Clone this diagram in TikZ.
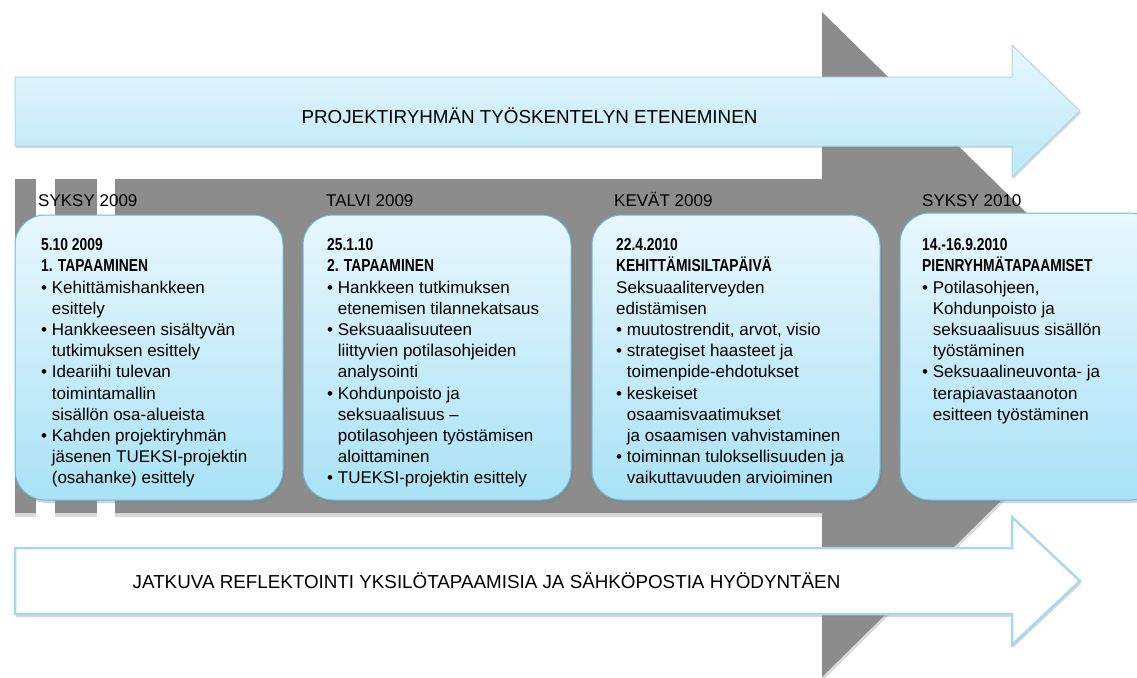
\documentclass[tikz,border=0pt]{standalone}
\usepackage{fontspec}
\setmainfont{Liberation Sans}
\newfontfamily\narrowbf[FakeStretch=0.8]{Liberation Sans Bold}
\usetikzlibrary{positioning,shadows}
\definecolor{tlgray}{HTML}{8C8C8C}
\definecolor{tlblue}{HTML}{A9E2F6}
\definecolor{tlpale}{HTML}{E8F7FD}
\definecolor{tledge}{HTML}{6DBAD9}
\definecolor{tlrim}{HTML}{A8D8EA}
\tikzset{
  meeting/.style={draw=tledge, line width=1pt, rounded corners=30pt, top color=tlpale, bottom color=tlblue,
    drop shadow={opacity=0.35, shadow xshift=2pt, shadow yshift=-3pt}},
  season/.style={anchor=base west, inner sep=0pt, font=\fontsize{17}{20}\selectfont},
  notes/.style={anchor=north west, inner sep=0pt, align=left, font=\fontsize{17}{21.2}\selectfont},
  banner/.style={inner sep=0pt, font=\fontsize{18.8}{22}\selectfont},
}
\newcommand{\bul}{\textbullet\ }
\newcommand{\ind}{\hphantom{\textbullet\ }}
\newcommand{\hd}[1]{{\narrowbf\fontsize{17.3}{21.2}\selectfont #1}}
\begin{document}
\begin{tikzpicture}[x=1pt,y=-1pt]
\useasboundingbox (0,0) rectangle (1137,677);
\clip (0,0) rectangle (1137,677);

\fill[tlgray, drop shadow={opacity=0.3, shadow xshift=0pt, shadow yshift=-4pt}] (115,179) -- (822,179) -- (822,12) -- (1160,344) -- (822,677) -- (822,513) -- (115,513) -- cycle;
\fill[tlgray, drop shadow={opacity=0.3, shadow xshift=0pt, shadow yshift=-4pt}] (15,179) rectangle (36,513);
\fill[tlgray, drop shadow={opacity=0.3, shadow xshift=0pt, shadow yshift=-4pt}] (55,179) rectangle (97,513);

\draw[draw=tlrim, line width=1pt, top color=tlpale, bottom color=tlblue!80,
  drop shadow={opacity=0.3, shadow xshift=1pt, shadow yshift=-2pt}]
  (15,77) -- (1012,77) -- (1012,45) -- (1080,111) -- (1012,177) -- (1012,146) -- (15,146) -- cycle;
\node[banner] (ptitle) at (529.5,116) {PROJEKTIRYHMÄN TYÖSKENTELYN ETENEMINEN};

\draw[draw=tlrim, line width=2.5pt, fill=white,
  drop shadow={opacity=0.3, shadow xshift=1pt, shadow yshift=-3pt}]
  (15,548) -- (1012,548) -- (1012,517) -- (1080,581) -- (1012,645) -- (1012,614) -- (15,614) -- cycle;
\node[banner] (rtitle) at (486.5,581) {JATKUVA REFLEKTOINTI YKSILÖTAPAAMISIA JA SÄHKÖPOSTIA HYÖDYNTÄEN};

\node[season] (s1) at (38,206.5) {SYKSY 2009};
\node[season] (s2) at (326,206.5) {TALVI 2009};
\node[season] (s3) at (614,206.5) {KEVÄT 2009};
\node[season] (s4) at (922,206.5) {SYKSY 2010};

\node[meeting, minimum width=268pt, minimum height=285pt] (m1) at (149,357.5) {};
\node[meeting, minimum width=268pt, minimum height=285pt] (m2) at (437,357.5) {};
\node[meeting, minimum width=288pt, minimum height=285pt] (m3) at (736,357.5) {};
\node[meeting, minimum width=260pt, minimum height=287pt] (m4) at (1030,356.5) {};

\node[notes] (n1) at (41,238.5) {\hd{5.10 2009}\\ \hd{1. TAPAAMINEN}\\
\bul Kehittämishankkeen\\ \ind esittely\\
\bul Hankkeeseen sisältyvän\\ \ind tutkimuksen esittely\\
\bul Ideariihi tulevan\\ \ind toimintamallin\\ \ind sisällön osa-alueista\\
\bul Kahden projektiryhmän\\ \ind jäsenen TUEKSI-projektin\\ \ind (osahanke) esittely};

\node[notes] (n2) at (327,238.5) {\hd{25.1.10}\\ \hd{2. TAPAAMINEN}\\
\bul Hankkeen tutkimuksen\\ \ind etenemisen tilannekatsaus\\
\bul Seksuaalisuuteen\\ \ind liittyvien potilasohjeiden\\ \ind analysointi\\
\bul Kohdunpoisto ja\\ \ind seksuaalisuus –\\ \ind potilasohjeen työstämisen\\ \ind aloittaminen\\
\bul TUEKSI-projektin esittely};

\node[notes] (n3) at (616,238.5) {\hd{22.4.2010}\\ \hd{KEHITTÄMISILTAPÄIVÄ}\\
Seksuaaliterveyden\\ edistämisen\\
\bul muutostrendit, arvot, visio\\
\bul strategiset haasteet ja\\ \ind toimenpide-ehdotukset\\
\bul keskeiset\\ \ind osaamisvaatimukset\\ \ind ja osaamisen vahvistaminen\\
\bul toiminnan tuloksellisuuden ja\\ \ind vaikuttavuuden arvioiminen};

\node[notes] (n4) at (922,238.5) {\hd{14.-16.9.2010}\\ \hd{PIENRYHMÄTAPAAMISET}\\
\bul Potilasohjeen,\\ \ind Kohdunpoisto ja\\ \ind seksuaalisuus sisällön\\ \ind työstäminen\\
\bul Seksuaalineuvonta- ja\\ \ind terapiavastaanoton\\ \ind esitteen työstäminen};

\end{tikzpicture}
\end{document}
